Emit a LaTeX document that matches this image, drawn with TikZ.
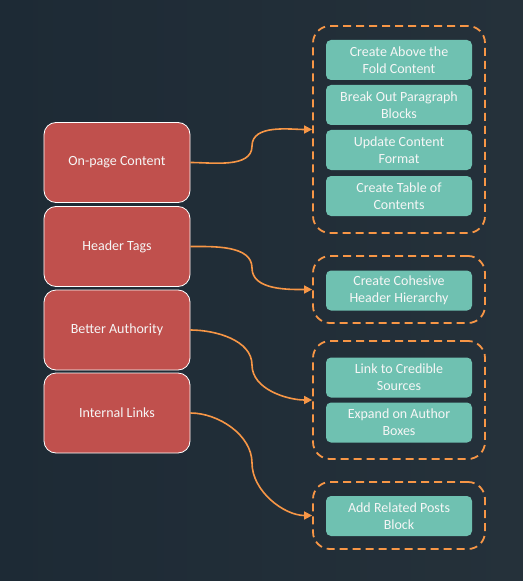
\documentclass[tikz,border=0pt]{standalone}
\usepackage{fontspec}
\setmainfont{Carlito}
\usetikzlibrary{arrows.meta}
\definecolor{bgL}{HTML}{1D2A35}
\definecolor{bgR}{HTML}{25313A}
\definecolor{redbox}{HTML}{C0504D}
\definecolor{tealbox}{HTML}{6FC1B1}
\definecolor{orng}{HTML}{F79646}
\definecolor{txt}{HTML}{F6F6F6}
\tikzset{
  topic/.style={draw=white, line width=0.8bp, fill=redbox, rounded corners=12bp,
    minimum width=146bp, minimum height=80bp, inner sep=0pt, text=txt,
    font=\fontsize{14bp}{16.7bp}\selectfont},
  task/.style={fill=tealbox, rounded corners=5bp, minimum width=146bp, minimum height=40bp,
    inner sep=0pt, text=txt, align=center, font=\fontsize{14bp}{16.7bp}\selectfont},
  group/.style={draw=orng, line width=1.8bp, dash pattern=on 8bp off 5bp, rounded corners=17bp,
    minimum width=172bp, inner sep=0pt},
  conn/.style={draw=orng, line width=1.6bp},
  tip/.style={-{Triangle[length=8bp,width=8bp]}}
}
\begin{document}
\begin{tikzpicture}[x=1bp,y=-1bp]
\shade[left color=bgL, right color=bgR] (0,0) rectangle (523,581);
\useasboundingbox (0,0) rectangle (523,581);

% topics
\node[topic] (r1) at (117,162.5) {On-page Content};
\node[topic] (r2) at (117,246.5) {Header Tags};
\node[topic] (r3) at (117,330) {Better Authority};
\node[topic] (r4) at (117,413) {Internal Links};

% groups
\node[group, minimum height=207bp] (g1) at (399,129.5) {};
\node[group, minimum height=67bp] (g2) at (399,289.5) {};
\node[group, minimum height=118bp] (g3) at (399,400) {};
\node[group, minimum height=67bp] (g4) at (399,515.5) {};

% tasks
\node[task] (t1) at (399,60) {Create Above the\\Fold Content};
\node[task] (t2) at (399,105) {Break Out Paragraph\\Blocks};
\node[task] (t3) at (399,150) {Update Content\\Format};
\node[task] (t4) at (399,196) {Create Table of\\Contents};
\node[task] (t5) at (399,290.5) {Create Cohesive\\Header Hierarchy};
\node[task] (t6) at (399,377.5) {Link to Credible\\Sources};
\node[task] (t7) at (399,422.5) {Expand on Author\\Boxes};
\node[task] (t8) at (399,516) {Add Related Posts\\Block};

% connector midpoints
\coordinate (m1) at (252,146);
\coordinate (m2) at (252,268);
\coordinate (m3) at (252,365);
\coordinate (m4) at (252,463);

\draw[conn,tip] (r1.east) to[out=0,in=-90,looseness=0.9] (m1) to[out=90,in=180,looseness=0.9] (g1.west);
\draw[conn,tip] (r2.east) to[out=0,in=90,looseness=0.9] (m2) to[out=-90,in=180,looseness=0.9] (g2.west);
\draw[conn,tip] (r3.east) to[out=0,in=90,looseness=0.9] (m3) to[out=-90,in=180,looseness=0.9] (g3.west);
\draw[conn,tip] (r4.east) to[out=0,in=90,looseness=0.9] (m4) to[out=-90,in=180,looseness=0.9] (g4.west);
\end{tikzpicture}
\end{document}
